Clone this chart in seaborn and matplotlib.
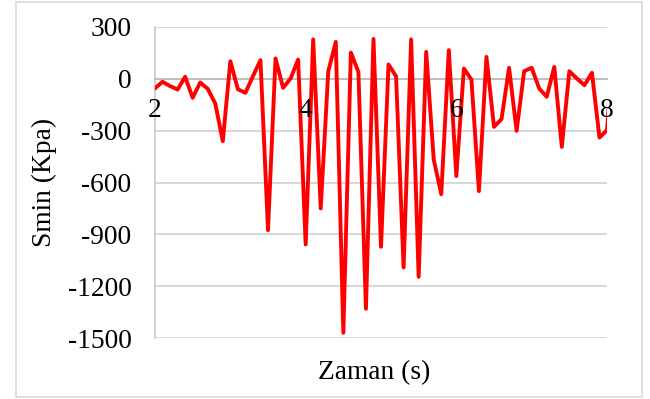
import matplotlib
matplotlib.use("Agg")
import matplotlib.pyplot as plt
import seaborn as sns
import pandas as pd
import numpy as np
from matplotlib.patches import Rectangle

time_s = [2.0, 2.1, 2.2, 2.3, 2.4, 2.5, 2.6, 2.7, 2.8, 2.9,
          3.0, 3.1, 3.2, 3.3, 3.4, 3.5, 3.6, 3.7, 3.8, 3.9,
          4.0, 4.1, 4.2, 4.3, 4.4, 4.5, 4.6, 4.7, 4.8, 4.9,
          5.0, 5.1, 5.2, 5.3, 5.4, 5.5, 5.6, 5.7, 5.8, 5.9,
          6.0, 6.1, 6.2, 6.3, 6.4, 6.5, 6.6, 6.7, 6.8, 6.9,
          7.0, 7.1, 7.2, 7.3, 7.4, 7.5, 7.6, 7.7, 7.8, 7.9,
          8.0, 8.1]
smin_kpa = [-55, -17, -42, -62, 12, -110, -21, -58, -143, -361,
            102, -60, -81, 15, 108, -876, 118, -52, 2, 112,
            -959, 228, -750, 44, 214, -1470, 152, 40, -1331, 231,
            -972, 83, 15, -1092, 228, -1146, 156, -467, -668, 166,
            -563, 60, -4, -650, 127, -278, -233, 64, -301, 44,
            64, -56, -104, 69, -394, 44, 2, -37, 35, -340,
            -297, 300]

y_ticks = [300, 0, -300, -600, -900, -1200, -1500]
x_ticks = [2, 4, 6, 8]

df = pd.DataFrame({"Zaman (s)": time_s, "Smin (Kpa)": smin_kpa})

sns.set_theme(style="white")
plt.rcParams["font.family"] = ["Liberation Serif", "DejaVu Serif"]

fig = plt.figure(figsize=(6.5, 3.99), dpi=100)
ax = fig.add_axes([155 / 650, 1 - 338 / 399, 452 / 650, 311 / 399])

sns.lineplot(data=df, x="Zaman (s)", y="Smin (Kpa)", ax=ax, sort=False,
             color="#ff0000", linewidth=2.8, estimator=None, zorder=2)

ax.set_xlim(2, 8)
ax.set_ylim(-1500, 300)
ax.set_yticks(y_ticks)
ax.set_yticklabels([str(v) for v in y_ticks])
ax.set_xticks(x_ticks)
ax.set_xticklabels([str(v) for v in x_ticks])

ax.yaxis.grid(True, color="#d4d4d4", linewidth=1.3)
ax.xaxis.grid(False)
ax.yaxis.set_zorder(0.5)
ax.xaxis.set_zorder(3)

for s in ["top", "right"]:
    ax.spines[s].set_visible(False)
ax.spines["left"].set_color("#c8c8c8")
ax.spines["left"].set_linewidth(1.2)
ax.spines["left"].set_zorder(0.6)
ax.spines["bottom"].set_position(("data", 0))
ax.spines["bottom"].set_color("#bfbfbf")
ax.spines["bottom"].set_linewidth(1.4)
ax.spines["bottom"].set_zorder(0.6)

ax.tick_params(axis="y", length=0, pad=17, labelsize=19.8, colors="black")
ax.tick_params(axis="x", length=0, pad=14, labelsize=19.8, colors="black")

ax.set_xlabel("Zaman (s)", fontsize=19.8, color="black")
ax.set_ylabel("Smin (Kpa)", fontsize=19.8, color="black")
ax.xaxis.set_label_coords((374 - 155) / 452, (338 - 373) / 311)
ax.xaxis.label.set_va("center")
ax.yaxis.set_label_coords((44 - 155) / 452, 0.5)
ax.yaxis.label.set_va("center")

fig.patches.append(Rectangle((16 / 650, 2 / 399), 626 / 650, 395 / 399,
                             transform=fig.transFigure, fill=False,
                             edgecolor="#d9d9d9", linewidth=1.2))

fig.savefig("out.png", dpi=100)
